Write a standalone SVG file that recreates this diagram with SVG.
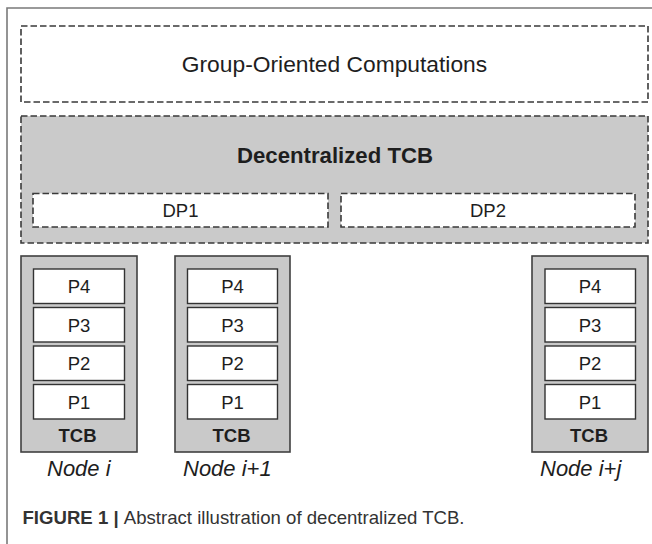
<svg xmlns="http://www.w3.org/2000/svg" width="652" height="544" viewBox="0 0 652 544">
  <style>
    .frame { fill: none; stroke: #7a7a7a; stroke-width: 1.6; }
    .dash { stroke: #3a3a3a; stroke-width: 1.6; stroke-dasharray: 6.5 3; }
    .white { fill: #ffffff; }
    .grey { fill: #cacaca; }
    .node { fill: #c9c9c9; stroke: #404040; stroke-width: 1.6; }
    .proc { fill: #ffffff; stroke: #333333; stroke-width: 1.4; }
    text { font-family: "Liberation Sans", Arial, Helvetica, sans-serif; fill: #1e1e1e; }
    .big { font-size: 22.8px; }
    .bigb { font-size: 22.2px; font-weight: bold; }
    .p { font-size: 18.5px; text-anchor: middle; }
    .tcb { font-size: 18.5px; font-weight: bold; text-anchor: middle; }
    .lbl { font-size: 22px; font-style: italic; }
    .cap { font-size: 18.6px; fill: #333333; }
  </style>

  <!-- outer frame -->
  <path class="frame" d="M7,544 V8 H652"/>

  <g id="group-oriented-computations">
    <rect class="white dash" x="21" y="26" width="627" height="76"/>
    <text class="big" x="334.5" y="71.5" text-anchor="middle">Group-Oriented Computations</text>
  </g>

  <g id="decentralized-tcb">
    <rect class="grey dash" x="21" y="116" width="627" height="127"/>
    <text class="bigb" x="335" y="162.5" text-anchor="middle">Decentralized TCB</text>
  </g>

  <g id="dp1">
    <rect class="white dash" x="33" y="193.5" width="295" height="33.5"/>
    <text class="p" x="180.5" y="216.5">DP1</text>
  </g>

  <g id="dp2">
    <rect class="white dash" x="341" y="193.5" width="294" height="33.5"/>
    <text class="p" x="488" y="216.5">DP2</text>
  </g>

  <g id="node-i">
    <rect class="node" x="21" y="256" width="116" height="196"/>
    <rect class="proc" x="33.5" y="269" width="91" height="34.5"/>
    <text class="p" x="79" y="293">P4</text>
    <rect class="proc" x="33.5" y="307.5" width="91" height="34.5"/>
    <text class="p" x="79" y="331.5">P3</text>
    <rect class="proc" x="33.5" y="346" width="91" height="34.5"/>
    <text class="p" x="79" y="370">P2</text>
    <rect class="proc" x="33.5" y="384.5" width="91" height="34.5"/>
    <text class="p" x="79" y="408.5">P1</text>
    <text class="tcb" x="77.5" y="442">TCB</text>
    <text class="lbl" x="47" y="476">Node i</text>
  </g>

  <g id="node-i-plus-1">
    <rect class="node" x="175" y="256" width="115" height="196"/>
    <rect class="proc" x="187.5" y="269" width="90" height="34.5"/>
    <text class="p" x="232.5" y="293">P4</text>
    <rect class="proc" x="187.5" y="307.5" width="90" height="34.5"/>
    <text class="p" x="232.5" y="331.5">P3</text>
    <rect class="proc" x="187.5" y="346" width="90" height="34.5"/>
    <text class="p" x="232.5" y="370">P2</text>
    <rect class="proc" x="187.5" y="384.5" width="90" height="34.5"/>
    <text class="p" x="232.5" y="408.5">P1</text>
    <text class="tcb" x="231.5" y="442">TCB</text>
    <text class="lbl" x="183" y="476">Node i+1</text>
  </g>

  <g id="node-i-plus-j">
    <rect class="node" x="532" y="256" width="116" height="196"/>
    <rect class="proc" x="545" y="269" width="90.5" height="34.5"/>
    <text class="p" x="590" y="293">P4</text>
    <rect class="proc" x="545" y="307.5" width="90.5" height="34.5"/>
    <text class="p" x="590" y="331.5">P3</text>
    <rect class="proc" x="545" y="346" width="90.5" height="34.5"/>
    <text class="p" x="590" y="370">P2</text>
    <rect class="proc" x="545" y="384.5" width="90.5" height="34.5"/>
    <text class="p" x="590" y="408.5">P1</text>
    <text class="tcb" x="589" y="442">TCB</text>
    <text class="lbl" x="540" y="476">Node i+j</text>
  </g>

  <g id="connectors"></g>

  <text class="cap" x="22.5" y="524"><tspan font-weight="bold" fill="#333333">FIGURE 1 | </tspan>Abstract illustration of decentralized TCB.</text>
</svg>
